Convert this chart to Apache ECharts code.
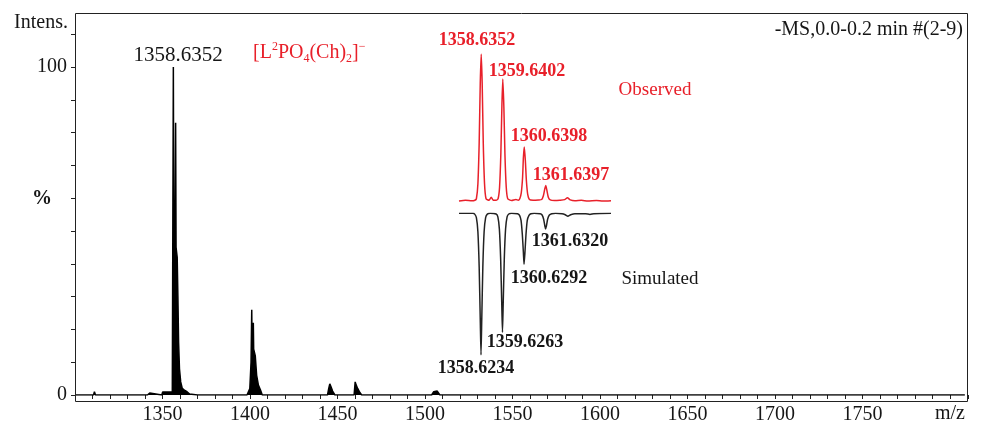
<!DOCTYPE html>
<html>
<head>
<meta charset="utf-8">
<script src="https://cdn.jsdelivr.net/npm/echarts@6/dist/echarts.min.js"></script>
<style>
  html, body { margin: 0; padding: 0; background: #fff; }
  #chart { width: 982px; height: 428px; }
</style>
</head>
<body>
<div id="chart"></div>
<script>
const SERIF = '"Liberation Serif", "Times New Roman", serif'
const RED = '#e8202a'
const INK = '#161616'

// full scan, [m/z, relative intensity %]
const scanStart = [[1300.5, 0], [1310.6, 0], [1311.1, 1], [1311.7, 0], [1341.4, 0], [1341.8, 0.6], [1342.3, 0],
  [1342.7, 0.6], [1343.1, 0], [1349.6, 0], [1350.1, 0.9], [1355.6, 0.9]]
const cluster1358 = [[1356.0, 1.5], [1356.2, 100], [1356.45, 50], [1357.2, 52], [1357.5, 83], [1357.75, 45],
  [1358.4, 42], [1358.8, 30], [1359.2, 16], [1359.7, 8], [1360.4, 4], [1361.3, 2], [1362.5, 1.5], [1364.0, 1],
  [1365.5, 0.3], [1366.0, 0]]
const scanMid = [[1370.0, 0], [1370.3, 0.6], [1370.6, 0], [1396.8, 0], [1397.1, 0.6], [1397.4, 0], [1397.9, 0.6], [1398.3, 0]]
const cluster1401 = [[1399.4, 0], [1399.9, 2], [1400.6, 10], [1401.0, 26], [1401.2, 14], [1401.7, 15], [1401.9, 22],
  [1402.1, 14], [1403.0, 12], [1403.8, 6], [1404.8, 3], [1406.0, 1.5], [1407.0, 0]]
const cluster1446 = [[1444.3, 0], [1445.0, 2], [1445.6, 3.4], [1446.3, 2.5], [1447.2, 1.2], [1448.5, 0]]
const cluster1461 = [[1459.5, 0], [1460.1, 4], [1460.7, 3], [1461.5, 2], [1462.5, 1], [1463.8, 0]]
const cluster1506 = [[1503.8, 0], [1505.0, 1], [1506.0, 1.6], [1507.0, 1.2], [1508.5, 0]]
const scanEnd = [[1551.1, 0], [1551.4, 0.5], [1551.7, 0], [1808.5, 0]]

// inset: isotope pattern, observed vs simulated
const observed = [[1357.6, 0.5], [1357.9, 1], [1358.2, 0.6], [1358.34, 1],
  [1358.41, 2], [1358.48, 12], [1358.54, 40], [1358.59, 80], [1358.635, 100], [1358.68, 80], [1358.73, 40],
  [1358.79, 12], [1358.86, 2], [1359.0, 1], [1359.1, 3], [1359.2, 1], [1359.33, 1],
  [1359.42, 2], [1359.49, 10], [1359.55, 33], [1359.6, 66], [1359.64, 83], [1359.69, 64], [1359.74, 32],
  [1359.8, 10], [1359.87, 2], [1360.05, 0.8], [1360.25, 1.5], [1360.36, 1],
  [1360.43, 2], [1360.5, 6], [1360.56, 16], [1360.6, 30], [1360.64, 37], [1360.69, 28], [1360.74, 14],
  [1360.8, 5], [1360.88, 1.5], [1361.05, 1], [1361.3, 1.2],
  [1361.45, 1.5], [1361.53, 4], [1361.6, 9], [1361.64, 11], [1361.69, 8], [1361.76, 3], [1361.85, 1.2],
  [1362.05, 0.8], [1362.3, 1], [1362.52, 1.4], [1362.65, 2.7], [1362.78, 1.2], [1363.0, 0.6], [1363.3, 0.9],
  [1363.6, 0.5], [1364.0, 0.8], [1364.3, 0.4], [1364.68, 0.6]]
const simulated = [[1357.6, 0], [1358.25, 0],
  [1358.33, 0.6], [1358.41, 3], [1358.48, 13], [1358.54, 38], [1358.59, 75], [1358.625, 100], [1358.66, 75],
  [1358.71, 38], [1358.77, 13], [1358.84, 3], [1358.92, 0.6], [1359.05, 0],
  [1359.33, 0.5], [1359.41, 2.5], [1359.48, 11], [1359.54, 32], [1359.59, 63], [1359.625, 84], [1359.66, 63],
  [1359.71, 32], [1359.77, 11], [1359.84, 2.5], [1359.92, 0.5], [1360.05, 0],
  [1360.33, 0.3], [1360.42, 1.5], [1360.49, 5], [1360.55, 15], [1360.6, 28], [1360.63, 36], [1360.67, 28],
  [1360.72, 15], [1360.78, 5], [1360.86, 1.5], [1360.95, 0.3], [1361.1, 0],
  [1361.38, 0.3], [1361.47, 1.2], [1361.54, 4], [1361.6, 9], [1361.63, 11], [1361.67, 9], [1361.73, 4],
  [1361.81, 1.2], [1361.92, 0.3], [1362.1, 0],
  [1362.4, 0.3], [1362.55, 1], [1362.67, 2], [1362.8, 1], [1363.0, 0.3], [1363.5, 0.3], [1363.7, 0.8],
  [1363.88, 0.3], [1364.68, 0]]

const observedLabels = ['1358.6352', '1359.6402', '1360.6398', '1361.6397']
const simulatedLabels = ['1358.6234', '1359.6263', '1360.6292', '1361.6320']
const xLabelTicks = [1350, 1400, 1450, 1500, 1550, 1600, 1650, 1700, 1750]
const yLabelTicks = [0, 100]

const fullScan = scanStart.concat(cluster1358, scanMid, cluster1401, cluster1446, cluster1461, cluster1506, scanEnd)

function text(str, x, y, opt) {
  opt = opt || {}
  return {
    type: 'text', x: x, y: y, silent: true,
    style: {
      text: str,
      font: (opt.bold ? 'bold ' : '') + (opt.size || 20) + 'px ' + SERIF,
      fill: opt.color || INK,
      align: opt.align || 'center',
      verticalAlign: 'middle'
    }
  }
}

let chart = echarts.init(document.getElementById('chart'))

let labels = [
  text('Intens.', 41, 23),
  text('%', 42, 199, {bold: true}),
  text('1358.6352', 178, 55, {size: 21}),
  text('-MS,0.0-0.2 min #(2-9)', 963, 30, {align: 'right'}),
  text('m/z', 950, 414),
  text('Observed', 655, 90, {size: 19, color: RED}),
  text('Simulated', 660, 279, {size: 19})
]
// peak labels in the inset
let obsPos = [[477, 40], [527, 71], [549, 136], [571, 175]]
let simPos = [[476, 368], [525, 342], [549, 278], [570, 241]]
observedLabels.forEach(function (s, i) {
  labels.push(text(s, obsPos[i][0], obsPos[i][1], {size: 18, bold: true, color: RED}))
})
simulatedLabels.forEach(function (s, i) {
  labels.push(text(s, simPos[i][0], simPos[i][1], {size: 18, bold: true}))
})

// [L2PO4(Ch)2]-
let small = {fontSize: 12, fontFamily: SERIF, fill: RED, lineHeight: 12}
labels.push({
  type: 'text', x: 253, y: 53, silent: true,
  style: {
    text: '{n|[L}{sup|2}{n|PO}{sub|4}{n|(Ch)}{sub|2}{n|]}{sup|\u2212}',
    verticalAlign: 'middle',
    rich: {
      n: {fontSize: 20, fontFamily: SERIF, fill: RED, lineHeight: 24},
      sup: Object.assign({verticalAlign: 'top'}, small),
      sub: Object.assign({verticalAlign: 'bottom'}, small)
    }
  }
})

labels.push({
  type: 'rect', silent: true, z: 10,
  shape: {x: 75.5, y: 13.5, width: 892, height: 388},
  style: {fill: 'none', stroke: '#222', lineWidth: 1}
})

let option = {
  animation: false,
  backgroundColor: '#fff',
  grid: [
    {left: 75, right: 14, top: 34.2, bottom: 33},
    {left: 459, width: 152, top: 54, height: 147.7},
    {left: 459, width: 152, top: 213.3, height: 141.7}
  ],
  xAxis: [
    {
      gridIndex: 0, type: 'value', min: 1300, max: 1810.3, interval: 10, offset: 7,
      axisLine: {show: false},
      axisTick: {length: 4, lineStyle: {color: '#222'}},
      axisLabel: {
        margin: 3, fontSize: 20, fontFamily: SERIF, color: INK,
        formatter: function (v) { return xLabelTicks.indexOf(v) !== -1 ? String(v) : '' }
      },
      splitLine: {show: false}
    },
    {gridIndex: 1, type: 'value', min: 1357.6, max: 1364.68, show: false},
    {gridIndex: 2, type: 'value', min: 1357.6, max: 1364.68, show: false}
  ],
  yAxis: [
    {
      gridIndex: 0, type: 'value', min: 0, max: 110, interval: 10,
      axisLine: {show: false},
      axisTick: {show: true, length: 4, lineStyle: {color: '#222'}},
      axisLabel: {
        margin: 8, fontSize: 20, fontFamily: SERIF, color: INK,
        formatter: function (v) { return yLabelTicks.indexOf(v) !== -1 ? String(v) : '' }
      },
      splitLine: {show: false}
    },
    {gridIndex: 1, type: 'value', min: 0, max: 100, show: false},
    {gridIndex: 2, type: 'value', min: 0, max: 100, inverse: true, show: false}
  ],
  series: [
    {
      type: 'line', xAxisIndex: 0, yAxisIndex: 0, data: fullScan, symbol: 'none',
      lineStyle: {color: '#000', width: 1.5}, areaStyle: {color: '#000', opacity: 1}
    },
    {
      type: 'line', xAxisIndex: 1, yAxisIndex: 1, data: observed, symbol: 'none', smooth: 0.2,
      lineStyle: {color: RED, width: 1.5}
    },
    {
      type: 'line', xAxisIndex: 2, yAxisIndex: 2, data: simulated, symbol: 'none', smooth: 0.2,
      lineStyle: {color: '#222', width: 1.5}
    }
  ],
  graphic: labels
}

chart.setOption(option)
</script>
</body>
</html>
